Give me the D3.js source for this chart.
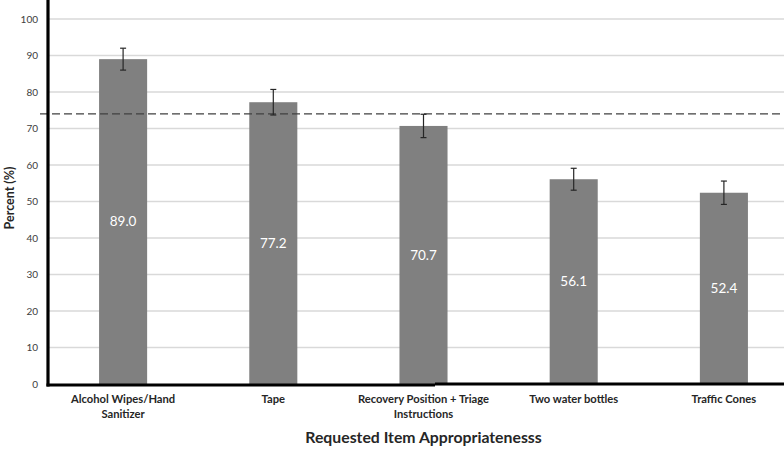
<!DOCTYPE html>
<html>
<head>
<meta charset="utf-8">
<script src="https://cdn.jsdelivr.net/npm/d3@7"></script>
<style>
  body { margin: 0; background: #fff; overflow: hidden; }
  svg { display: block; font-family: Lato, "Open Sans", sans-serif; }
</style>
</head>
<body>
<div id="chart"></div>
<script>
// data
var categories = [["Alcohol Wipes/Hand", "Sanitizer"], ["Tape"], ["Recovery Position + Triage", "Instructions"], ["Two water bottles"], ["Traffic Cones"]]
var values = [89.0, 77.2, 70.7, 56.1, 52.4]
var errors = [3.0, 3.5, 3.2, 3.0, 3.2]
var yTicks = [0, 10, 20, 30, 40, 50, 60, 70, 80, 90, 100]
var refLine = 74

var W = 784, H = 449
var plot = {left: 48, right: 799, top: 0, bottom: 384}

var svg = d3.select("#chart").append("svg")
  .attr("width", W)
  .attr("height", H)

var x = d3.scaleBand()
  .domain(d3.range(values.length))
  .range([plot.left, plot.right])
  .paddingInner(0.68)
  .paddingOuter(0.34)

var y = d3.scaleLinear()
  .domain([0, 100])
  .range([plot.bottom, 19])

// gridlines
svg.append("g").selectAll("line")
  .data(yTicks.filter(d => d > 0))
  .enter().append("line")
  .attr("x1", plot.left).attr("x2", W)
  .attr("y1", d => y(d)).attr("y2", d => y(d))
  .style("stroke", "#d9d9d9")
  .style("stroke-width", 1.3)

// y tick labels
svg.append("g").selectAll("text")
  .data(yTicks)
  .enter().append("text")
  .attr("x", 38)
  .attr("y", d => y(d))
  .attr("dy", "0.35em")
  .attr("text-anchor", "end")
  .style("font-size", "10px")
  .style("fill", "#404040")
  .text(d => d)

// bars
svg.append("g").selectAll("rect")
  .data(values)
  .enter().append("rect")
  .attr("x", (d, i) => x(i))
  .attr("y", d => y(d))
  .attr("width", x.bandwidth())
  .attr("height", d => y(0) - y(d))
  .style("fill", "#808080")

// reference line
svg.append("line")
  .attr("x1", 40).attr("x2", W)
  .attr("y1", y(refLine)).attr("y2", y(refLine))
  .style("stroke", "#404040")
  .style("stroke-width", 1.4)
  .style("stroke-dasharray", "8,4")

// error bars
var eb = svg.append("g").selectAll("g")
  .data(values)
  .enter().append("g")
  .style("stroke", "#262626")
  .style("stroke-width", 1.2)

eb.append("line")
  .attr("x1", (d, i) => x(i) + x.bandwidth() / 2)
  .attr("x2", (d, i) => x(i) + x.bandwidth() / 2)
  .attr("y1", (d, i) => y(d + errors[i]))
  .attr("y2", (d, i) => y(d - errors[i]))
eb.append("line")
  .attr("x1", (d, i) => x(i) + x.bandwidth() / 2 - 3)
  .attr("x2", (d, i) => x(i) + x.bandwidth() / 2 + 3)
  .attr("y1", (d, i) => y(d + errors[i]))
  .attr("y2", (d, i) => y(d + errors[i]))
eb.append("line")
  .attr("x1", (d, i) => x(i) + x.bandwidth() / 2 - 3)
  .attr("x2", (d, i) => x(i) + x.bandwidth() / 2 + 3)
  .attr("y1", (d, i) => y(d - errors[i]))
  .attr("y2", (d, i) => y(d - errors[i]))

// value labels inside bars
svg.append("g").selectAll("text")
  .data(values)
  .enter().append("text")
  .attr("x", (d, i) => x(i) + x.bandwidth() / 2)
  .attr("y", d => (y(d) + y(0)) / 2)
  .attr("dy", "0.35em")
  .attr("text-anchor", "middle")
  .style("font-size", "13.5px")
  .style("fill", "#fff")
  .text(d => d.toFixed(1))

// axes lines
svg.append("line")
  .attr("x1", plot.left).attr("x2", plot.left)
  .attr("y1", 0).attr("y2", plot.bottom + 2.5)
  .style("stroke", "#000").style("stroke-width", 3.2)
svg.append("line")
  .attr("x1", plot.left - 1.5).attr("x2", 435)
  .attr("y1", plot.bottom + 1).attr("y2", plot.bottom + 1)
  .style("stroke", "#000").style("stroke-width", 3.2)
svg.append("line")
  .attr("x1", 435).attr("x2", W)
  .attr("y1", plot.bottom).attr("y2", plot.bottom)
  .style("stroke", "#000").style("stroke-width", 3)

// category labels
var cat = svg.append("g").selectAll("text")
  .data(categories)
  .enter().append("text")
  .attr("text-anchor", "middle")
  .style("font-size", "11.2px")
  .style("font-weight", "bold")
  .style("fill", "#262626")
cat.selectAll("tspan")
  .data((d, i) => d.map(t => ({t: t, i: i})))
  .enter().append("tspan")
  .attr("x", d => x(d.i) + x.bandwidth() / 2)
  .attr("y", (d, j) => 403 + j * 15)
  .text(d => d.t)

// axis titles
svg.append("text")
  .attr("x", (plot.left + plot.right) / 2)
  .attr("y", 443)
  .attr("text-anchor", "middle")
  .style("font-size", "15.8px")
  .style("font-weight", "bold")
  .style("fill", "#262626")
  .text("Requested Item Appropriatenesss")

svg.append("text")
  .attr("transform", "translate(14,198) rotate(-90)")
  .attr("text-anchor", "middle")
  .style("font-size", "12.5px")
  .style("font-weight", "bold")
  .style("fill", "#262626")
  .text("Percent (%)")
</script>
</body>
</html>
